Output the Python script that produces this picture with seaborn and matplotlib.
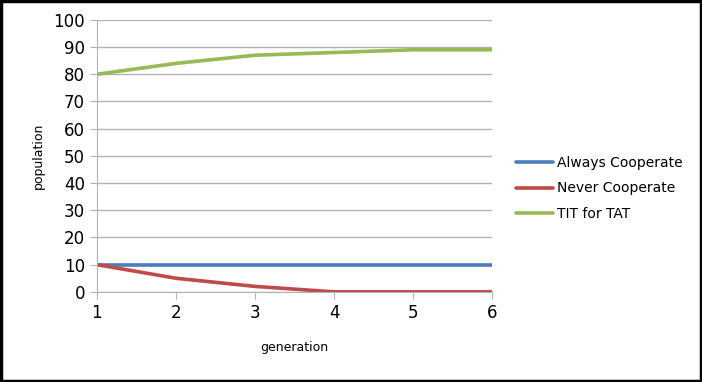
import pandas as pd
import seaborn as sns
import matplotlib.pyplot as plt
from matplotlib.patches import Rectangle

# values
generation = [1, 2, 3, 4, 5, 6]
always_cooperate = [10, 10, 10, 10, 10, 10]
never_cooperate = [10, 5, 2, 0, 0, 0]
tit_for_tat = [80, 84, 87, 88, 89, 89]

df = pd.DataFrame({
    "generation": generation * 3,
    "population": always_cooperate + never_cooperate + tit_for_tat,
    "strategy": ["Always Cooperate"] * 6 + ["Never Cooperate"] * 6 + ["TIT for TAT"] * 6,
})

sns.set_style("white")
plt.rcParams['font.family'] = ['DejaVu Sans']
plt.rcParams['text.color'] = 'black'

fig = plt.figure(figsize=(7.02, 3.82), dpi=100)
ax = fig.add_axes([0.138, 0.236, 0.563, 0.712])

palette = {"Always Cooperate": "#4a7ebb", "Never Cooperate": "#be4b48", "TIT for TAT": "#98b954"}
sns.lineplot(data=df, x="generation", y="population", hue="strategy",
             palette=palette, linewidth=2.6, ax=ax)

ax.set_xlim(1, 6)
ax.set_ylim(0, 100)
ax.set_yticks(range(0, 101, 10))
ax.set_xticks(generation)
ax.yaxis.grid(True, color="#b3b3b3", linewidth=1)
ax.set_axisbelow(True)
for s in ["top", "right"]:
    ax.spines[s].set_visible(False)
for s in ["left", "bottom"]:
    ax.spines[s].set_color("#b3b3b3")
ax.tick_params(axis="both", which="both", direction="out", length=5, color="#b3b3b3",
               labelsize=12, labelcolor="black", left=True, bottom=True)
ax.set_xlabel("generation", fontsize=9, labelpad=14, color="black")
ax.set_ylabel("population", fontsize=9, labelpad=6, color="black")

ax.legend(title=None, frameon=False, loc="center left", bbox_to_anchor=(1.03, 0.38),
          fontsize=10, handlelength=2.6, handletextpad=0.3, labelspacing=0.85)

fig.patches.append(Rectangle((0.002, 0.003), 0.996, 0.994, transform=fig.transFigure,
                             fill=False, edgecolor="black", linewidth=2.5))

fig.savefig("out.png", dpi=100)
